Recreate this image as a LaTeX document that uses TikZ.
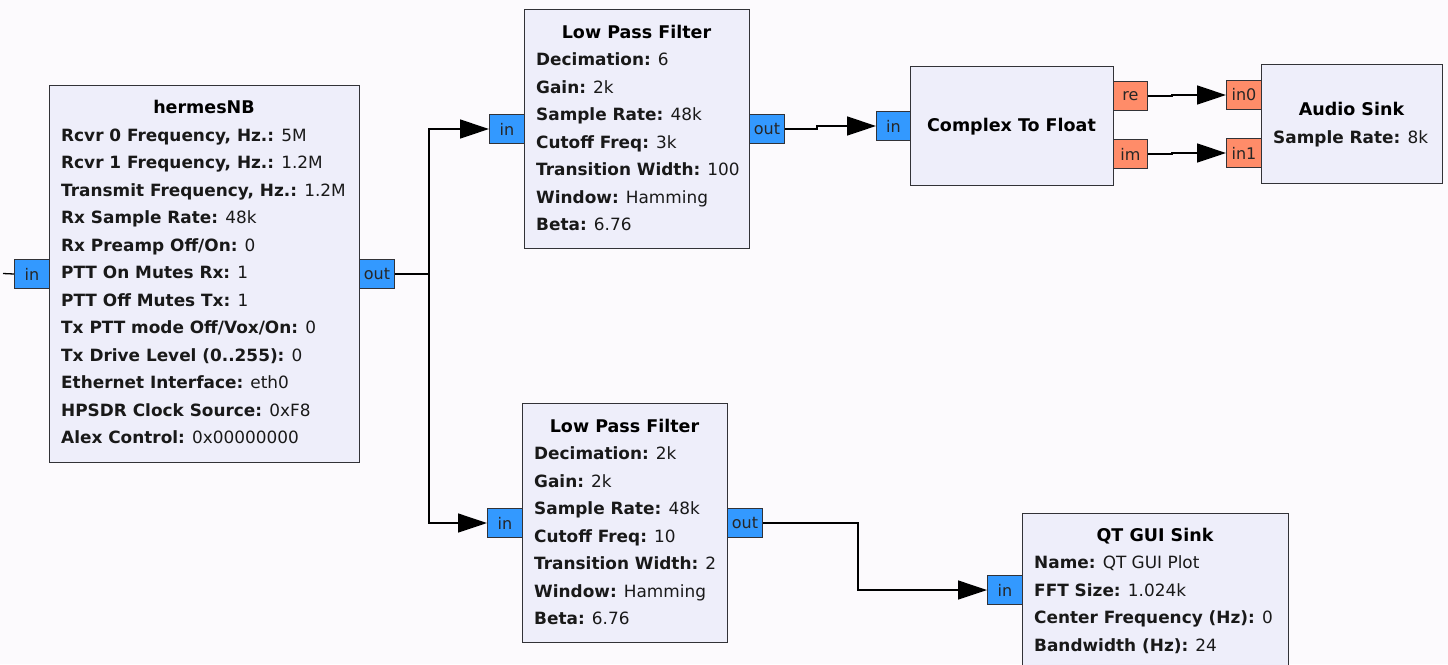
\documentclass[tikz,border=0pt]{standalone}
\usepackage{fontspec}
\setmainfont{DejaVu Sans}
\usetikzlibrary{arrows.meta}
\definecolor{bgcol}{RGB}{252,250,253}
\definecolor{blockfill}{RGB}{238,238,250}
\definecolor{cplx}{RGB}{51,153,255}
\definecolor{flt}{RGB}{255,140,105}
\definecolor{edge}{RGB}{50,50,55}
\newcommand{\kv}[2]{\textbf{#1:} #2}
\tikzset{
  block/.style={draw=edge, fill=blockfill, line width=1.3pt, inner sep=0pt, anchor=north west},
  port/.style={draw=edge, line width=1pt, inner sep=0pt, anchor=north west,
    minimum width=35pt, minimum height=29pt, font=\fontsize{16}{18}\selectfont, text=black!85},
  cport/.style={port, fill=cplx},
  fport/.style={port, fill=flt},
  ttl/.style={inner sep=0pt, font=\fontsize{17.5}{20}\selectfont\bfseries, text height=12pt, text depth=0pt},
  prm/.style={inner sep=0pt, anchor=west, font=\fontsize{16.9}{20}\selectfont, text height=12pt, text depth=0pt, text=black!90},
  conn/.style={draw=black, line width=1.3pt, -{Triangle[length=29pt,width=19pt]}},
  wire/.style={draw=black, line width=1.3pt}
}
\begin{document}
\begin{tikzpicture}[x=1pt,y=-1pt]
\useasboundingbox (0,0) rectangle (1448,664);
\clip (0,0) rectangle (1448,664);
\fill[bgcol] (0,0) rectangle (1448,664);

% hermesNB
\node[block, minimum width=310pt, minimum height=377pt] (h) at (49,85) {};
\node[ttl] (ht) at (204,107.5) {hermesNB};
\node[prm] (h1) at (61,135) {\kv{Rcvr 0 Frequency, Hz.}{5M}};
\node[prm] (h2) at (61,162.5) {\kv{Rcvr 1 Frequency, Hz.}{1.2M}};
\node[prm] (h3) at (61,190) {\kv{Transmit Frequency, Hz.}{1.2M}};
\node[prm] (h4) at (61,217.5) {\kv{Rx Sample Rate}{48k}};
\node[prm] (h5) at (61,245) {\kv{Rx Preamp Off/On}{0}};
\node[prm] (h6) at (61,272.5) {\kv{PTT On Mutes Rx}{1}};
\node[prm] (h7) at (61,300) {\kv{PTT Off Mutes Tx}{1}};
\node[prm] (h8) at (61,327.5) {\kv{Tx PTT mode Off/Vox/On}{0}};
\node[prm] (h9) at (61,355) {\kv{Tx Drive Level (0..255)}{0}};
\node[prm] (h10) at (61,382.5) {\kv{Ethernet Interface}{eth0}};
\node[prm] (h11) at (61,410) {\kv{HPSDR Clock Source}{0xF8}};
\node[prm] (h12) at (61,437.5) {\kv{Alex Control}{0x00000000}};
\node[cport] (hin) at (14,259) {in};
\node[cport] (hout) at (359,259) {out};

% Low Pass Filter 1
\node[block, minimum width=225pt, minimum height=239pt] (l1) at (524,9) {};
\node[ttl] (l1t) at (636.5,32) {Low Pass Filter};
\node[prm] (l1a) at (536,59.5) {\kv{Decimation}{6}};
\node[prm] (l1b) at (536,87) {\kv{Gain}{2k}};
\node[prm] (l1c) at (536,114.5) {\kv{Sample Rate}{48k}};
\node[prm] (l1d) at (536,142) {\kv{Cutoff Freq}{3k}};
\node[prm] (l1e) at (536,169.5) {\kv{Transition Width}{100}};
\node[prm] (l1f) at (536,197) {\kv{Window}{Hamming}};
\node[prm] (l1g) at (536,224.5) {\kv{Beta}{6.76}};
\node[cport] (l1in) at (489,114) {in};
\node[cport] (l1out) at (749,114) {out};

% Low Pass Filter 2
\node[block, minimum width=205pt, minimum height=239pt] (l2) at (522,403) {};
\node[ttl] (l2t) at (624.5,426) {Low Pass Filter};
\node[prm] (l2a) at (534,453.5) {\kv{Decimation}{2k}};
\node[prm] (l2b) at (534,481) {\kv{Gain}{2k}};
\node[prm] (l2c) at (534,508.5) {\kv{Sample Rate}{48k}};
\node[prm] (l2d) at (534,536) {\kv{Cutoff Freq}{10}};
\node[prm] (l2e) at (534,563.5) {\kv{Transition Width}{2}};
\node[prm] (l2f) at (534,591) {\kv{Window}{Hamming}};
\node[prm] (l2g) at (534,618.5) {\kv{Beta}{6.76}};
\node[cport] (l2in) at (487,508) {in};
\node[cport] (l2out) at (727,508) {out};

% Complex To Float
\node[block, minimum width=203pt, minimum height=119pt] (cf) at (910,66) {};
\node[ttl] (cft) at (1011.5,125.5) {Complex To Float};
\node[cport, minimum width=34pt] (cfin) at (876,111) {in};
\node[fport, minimum width=34pt] (cfre) at (1113,81) {re};
\node[fport, minimum width=34pt] (cfim) at (1113,139) {im};

% Audio Sink
\node[block, minimum width=181pt, minimum height=119pt] (as) at (1261,64) {};
\node[ttl] (ast) at (1351.5,109) {Audio Sink};
\node[prm] (asa) at (1273,137) {\kv{Sample Rate}{8k}};
\node[fport, minimum width=35pt] (asin0) at (1226,80) {in0};
\node[fport, minimum width=35pt] (asin1) at (1226,138) {in1};

% QT GUI Sink
\node[block, minimum width=266pt, minimum height=170pt] (qt) at (1022,513) {};
\node[ttl] (qtt) at (1155,535) {QT GUI Sink};
\node[prm] (qta) at (1034,562.5) {\kv{Name}{QT GUI Plot}};
\node[prm] (qtb) at (1034,590) {\kv{FFT Size}{1.024k}};
\node[prm] (qtc) at (1034,617.5) {\kv{Center Frequency (Hz)}{0}};
\node[prm] (qtd) at (1034,645) {\kv{Bandwidth (Hz)}{24}};
\node[cport] (qtin) at (987,575) {in};

% connectors
\coordinate (stub) at (3,273.5);
\draw[wire] (stub) -- (hin.west);
\draw[conn] (hout.east) -- ++(34,0) |- (l1in.west);
\draw[conn] (hout.east) -- ++(34,0) |- (l2in.west);
\draw[conn] (l1out.east) -- ++(32,0) |- (cfin.west);
\draw[conn] (cfre.east) -- ++(24,0) |- (asin0.west);
\draw[conn] (cfim.east) -- ++(24,0) |- (asin1.west);
\draw[conn] (l2out.east) -- ++(95,0) |- (qtin.west);
\end{tikzpicture}
\end{document}
